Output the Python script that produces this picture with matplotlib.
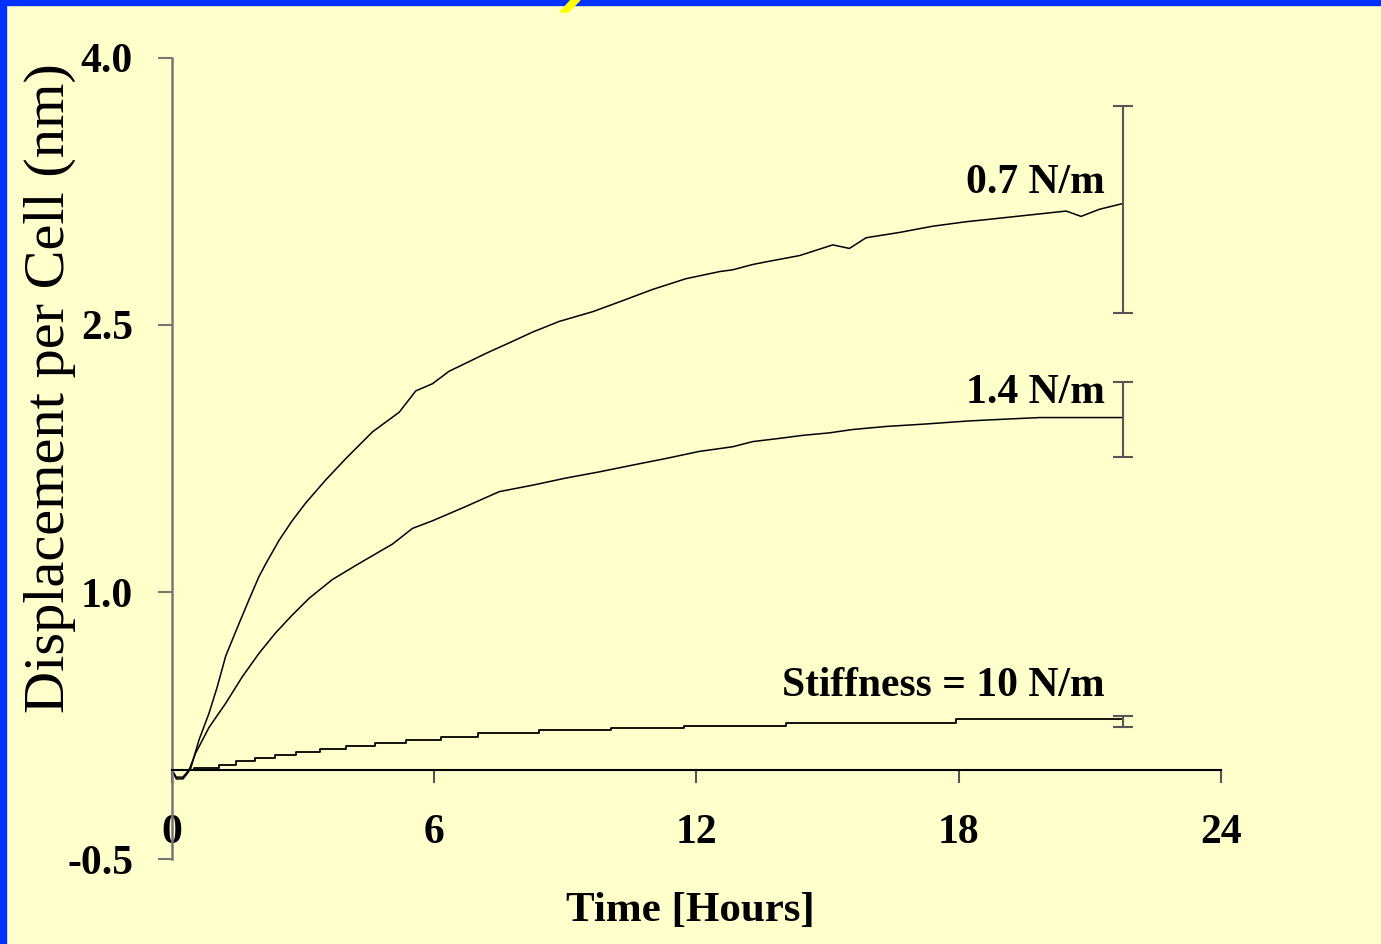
import matplotlib
matplotlib.use("Agg")
import matplotlib.pyplot as plt
from matplotlib.patches import Rectangle, Polygon

plt.rcParams['font.family'] = ['Liberation Serif', 'DejaVu Serif']

# 0.7 N/m
t_07 = [0, 0.1, 0.25, 0.35, 0.43, 0.62, 0.85, 1.04, 1.23, 1.53, 1.76, 1.99, 2.15, 2.45, 2.75,
        3.06, 3.52, 3.98, 4.59, 5.2, 5.58, 5.96, 6.34, 6.72, 7.18, 7.72, 8.25, 8.86, 9.63,
        10.24, 11.0, 11.76, 12.53, 12.83, 13.29, 13.6, 14.36, 15.12, 15.5, 15.88, 16.65,
        17.41, 18.17, 18.94, 19.7, 20.46, 20.8, 21.22, 21.72]
y_07 = [0, -0.05, -0.05, -0.02, 0.01, 0.17, 0.32, 0.47, 0.64, 0.82, 0.955, 1.086, 1.16, 1.29, 1.40,
        1.50, 1.63, 1.75, 1.90, 2.01, 2.13, 2.17, 2.24, 2.285, 2.34, 2.40, 2.46, 2.52, 2.575,
        2.63, 2.70, 2.76, 2.80, 2.81, 2.84, 2.855, 2.89, 2.95, 2.93, 2.99, 3.02,
        3.055, 3.08, 3.10, 3.12, 3.14, 3.11, 3.15, 3.18]

# 1.4 N/m
t_14 = [0, 0.1, 0.25, 0.39, 0.54, 0.85, 1.23, 1.61, 1.99, 2.37, 2.75, 3.14, 3.67, 4.28, 5.05,
        5.5, 5.96, 6.72, 7.49, 8.25, 9.01, 9.78, 10.54, 11.3, 12.07, 12.83, 13.29, 13.9,
        14.43, 15.04, 15.58, 16.34, 17.26, 18.17, 18.63, 19.85, 21.72]
y_14 = [0, -0.04, -0.04, 0, 0.094, 0.24, 0.375, 0.524, 0.655, 0.77, 0.87, 0.965, 1.07, 1.16, 1.27,
        1.357, 1.40, 1.48, 1.564, 1.60, 1.64, 1.675, 1.713, 1.75, 1.79, 1.816, 1.845, 1.863,
        1.88, 1.894, 1.913, 1.93, 1.944, 1.96, 1.966, 1.98, 1.98]

# 10 N/m (stepped)
t_10 = [0, 0.5, 1.08, 1.47, 1.9, 2.35, 2.83, 3.39, 3.98, 4.65, 5.35, 6.15, 7.0, 8.4, 10.05,
        11.72, 14.06, 17.93, 21.72]
y_10 = [0, 0.013, 0.028, 0.05, 0.066, 0.082, 0.103, 0.118, 0.137, 0.154, 0.171, 0.188, 0.206,
        0.223, 0.234, 0.248, 0.263, 0.285, 0.285]

# error bars at the end of each curve
err_t = [21.75, 21.75, 21.75]
err_y = [3.15, 1.97, 0.272]
err_e = [0.58, 0.21, 0.032]

labels = ["0.7 N/m", "1.4 N/m", "Stiffness = 10 N/m"]
label_y = [3.30, 2.12, 0.47]

bg = "#FFFFCC"
fig = plt.figure(figsize=(13.81, 9.44), dpi=100, facecolor=bg)
ax = fig.add_axes([0.1245, 0.0900, 0.7596, 0.8486])
ax.set_facecolor(bg)

ax.plot(t_07, y_07, color="black", lw=1.1)
ax.plot(t_14, y_14, color="black", lw=1.1)
ax.plot(t_10, y_10, color="black", lw=1.3, drawstyle="steps-post")
ax.errorbar(err_t, err_y, yerr=err_e, fmt="none", ecolor="#555555", elinewidth=1.5,
            capsize=7, capthick=1.5)

for lab, ly in zip(labels, label_y):
    ax.text(21.35, ly, lab, ha="right", va="center", fontsize=30, fontweight="bold")

ax.set_xlim(0, 24)
ax.set_ylim(-0.5, 4.0)
ax.set_xticks([0, 6, 12, 18, 24])
ax.set_yticks([-0.5, 1.0, 2.5, 4.0])
ax.set_yticklabels(["-0.5", "1.0", "2.5", "4.0"])

ax.spines["top"].set_visible(False)
ax.spines["right"].set_visible(False)
ax.spines["bottom"].set_position(("data", 0))
ax.spines["bottom"].set_color("black")
ax.spines["bottom"].set_linewidth(1.5)
ax.spines["left"].set_color("#777777")
ax.spines["left"].set_linewidth(1.8)

ax.tick_params(axis="x", direction="out", length=9.5, width=1.5, color="#555555",
               pad=22, labelsize=30)
ax.tick_params(axis="y", direction="out", length=10, width=1.5, color="#777777",
               pad=18, labelsize=30)
for lab in ax.get_xticklabels() + ax.get_yticklabels():
    lab.set_fontweight("bold")

fig.text(0.5, 0.035, "Time [Hours]", ha="center", va="center", fontsize=31,
         fontweight="bold")
fig.text(0.036, 1 - 388 / 944, "Displacement per Cell (nm)", rotation=90,
         ha="center", va="center", fontsize=42)

# blue frame on left and top, small yellow mark at the top
fig.patches.append(Rectangle((0, 0), 0.0045, 1, transform=fig.transFigure,
                             color="#0033FF", zorder=10))
fig.patches.append(Rectangle((0, 0.9947), 1, 0.0053, transform=fig.transFigure,
                             color="#0033FF", zorder=10))
fig.patches.append(Polygon([(0.4055, 0.9872), (0.4115, 0.9872), (0.4200, 1.0), (0.4135, 1.0)],
                           closed=True, transform=fig.transFigure, color="#FFFF00", zorder=11))

fig.savefig("out.png", dpi=100, facecolor=bg)
